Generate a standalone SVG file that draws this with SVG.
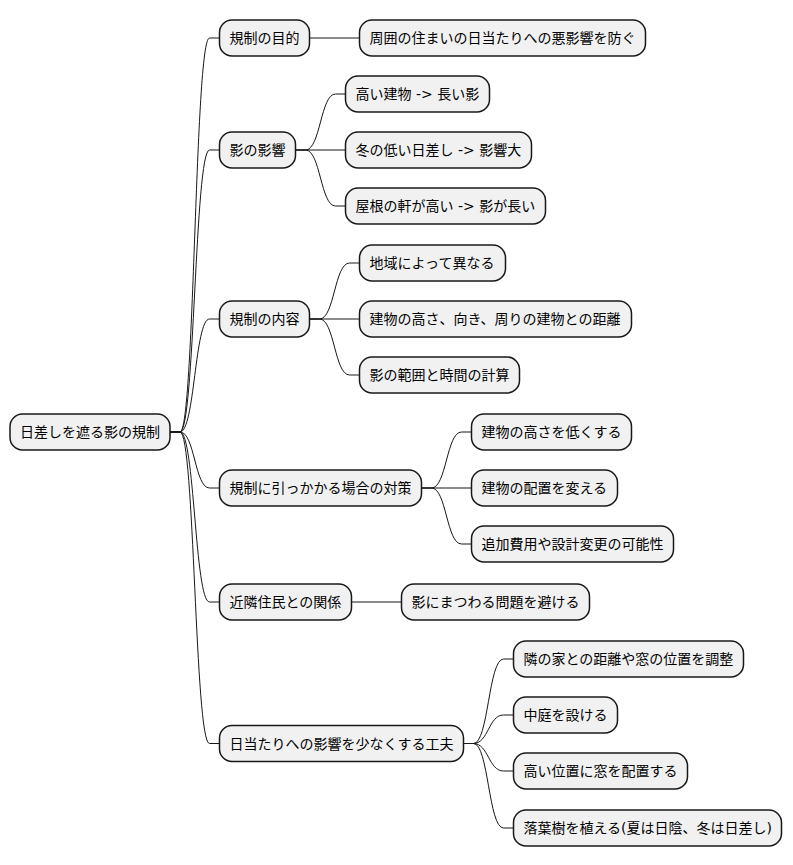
<svg xmlns="http://www.w3.org/2000/svg" width="793" height="865" viewBox="0 0 793 865">
<style>
.n rect{fill:#F1F1F1;stroke:#181818;stroke-width:1.5}
.n text{font-family:"DejaVu Sans","Noto Sans CJK JP",sans-serif;font-size:14px;fill:#000}
.c path{fill:none;stroke:#181818;stroke-width:1}
</style>
<rect width="793" height="865" fill="#FFFFFF"/>
<g class="c" id="connectors">
<path d="M170,432 L180,432 C194.75,432 194.75,38 209.5,38 L219.5,38"/>
<path d="M170,432 L180,432 C194.75,432 194.75,150 209.5,150 L219.5,150"/>
<path d="M170,432 L180,432 C194.75,432 194.75,319 209.5,319 L219.5,319"/>
<path d="M170,432 L180,432 C194.75,432 194.75,488 209.5,488 L219.5,488"/>
<path d="M170,432 L180,432 C194.75,432 194.75,602 209.5,602 L219.5,602"/>
<path d="M170,432 L180,432 C194.75,432 194.75,743.5 209.5,743.5 L219.5,743.5"/>
<path d="M309.5,38 L359.5,38"/>
<path d="M295.5,150 L305.5,150 C320.5,150 320.5,94 335.5,94 L345.5,94"/>
<path d="M295.5,150 L345.5,150"/>
<path d="M295.5,150 L305.5,150 C320.5,150 320.5,206 335.5,206 L345.5,206"/>
<path d="M309.5,319 L319.5,319 C334.5,319 334.5,263 349.5,263 L359.5,263"/>
<path d="M309.5,319 L359.5,319"/>
<path d="M309.5,319 L319.5,319 C334.5,319 334.5,375 349.5,375 L359.5,375"/>
<path d="M421.5,488 L431.5,488 C446.5,488 446.5,432 461.5,432 L471.5,432"/>
<path d="M421.5,488 L471.5,488"/>
<path d="M421.5,488 L431.5,488 C446.5,488 446.5,544 461.5,544 L471.5,544"/>
<path d="M351.5,602 L401.5,602"/>
<path d="M463.5,743.5 L473.5,743.5 C488.5,743.5 488.5,659 503.5,659 L513.5,659"/>
<path d="M463.5,743.5 L473.5,743.5 C488.5,743.5 488.5,715 503.5,715 L513.5,715"/>
<path d="M463.5,743.5 L473.5,743.5 C488.5,743.5 488.5,771 503.5,771 L513.5,771"/>
<path d="M463.5,743.5 L473.5,743.5 C488.5,743.5 488.5,828 503.5,828 L513.5,828"/>
</g>
<g class="n" id="root"><rect x="10" y="414" width="160" height="36" rx="12.5"/><text x="20" y="437">日差しを遮る影の規制</text></g>
<g class="n" id="n_mokuteki"><rect x="219.5" y="20" width="90" height="36" rx="12.5"/><text x="229.5" y="43">規制の目的</text></g>
<g class="n" id="n_eikyo"><rect x="219.5" y="132" width="76" height="36" rx="12.5"/><text x="229.5" y="155">影の影響</text></g>
<g class="n" id="n_naiyo"><rect x="219.5" y="301" width="90" height="36" rx="12.5"/><text x="229.5" y="324">規制の内容</text></g>
<g class="n" id="n_taisaku"><rect x="219.5" y="470" width="202" height="36" rx="12.5"/><text x="229.5" y="493">規制に引っかかる場合の対策</text></g>
<g class="n" id="n_kinrin"><rect x="219.5" y="584" width="132" height="36" rx="12.5"/><text x="229.5" y="607">近隣住民との関係</text></g>
<g class="n" id="n_kufu"><rect x="219.5" y="725.5" width="244" height="36" rx="12.5"/><text x="229.5" y="748.5">日当たりへの影響を少なくする工夫</text></g>
<g class="n" id="n_shui"><rect x="359.5" y="20" width="286" height="36" rx="12.5"/><text x="369.5" y="43">周囲の住まいの日当たりへの悪影響を防ぐ</text></g>
<g class="n" id="n_takai"><rect x="345.5" y="76" width="144" height="36" rx="12.5"/><text x="355.5" y="99">高い建物 -&gt; 長い影</text></g>
<g class="n" id="n_fuyu"><rect x="345.5" y="132" width="186" height="36" rx="12.5"/><text x="355.5" y="155">冬の低い日差し -&gt; 影響大</text></g>
<g class="n" id="n_yane"><rect x="345.5" y="188" width="200" height="36" rx="12.5"/><text x="355.5" y="211">屋根の軒が高い -&gt; 影が長い</text></g>
<g class="n" id="n_chiiki"><rect x="359.5" y="245" width="146" height="36" rx="12.5"/><text x="369.5" y="268">地域によって異なる</text></g>
<g class="n" id="n_tatemono"><rect x="359.5" y="301" width="272" height="36" rx="12.5"/><text x="369.5" y="324">建物の高さ、向き、周りの建物との距離</text></g>
<g class="n" id="n_hani"><rect x="359.5" y="357" width="160" height="36" rx="12.5"/><text x="369.5" y="380">影の範囲と時間の計算</text></g>
<g class="n" id="n_hikuku"><rect x="471.5" y="414" width="160" height="36" rx="12.5"/><text x="481.5" y="437">建物の高さを低くする</text></g>
<g class="n" id="n_haichi"><rect x="471.5" y="470" width="146" height="36" rx="12.5"/><text x="481.5" y="493">建物の配置を変える</text></g>
<g class="n" id="n_tsuika"><rect x="471.5" y="526" width="202" height="36" rx="12.5"/><text x="481.5" y="549">追加費用や設計変更の可能性</text></g>
<g class="n" id="n_mondai"><rect x="401.5" y="584" width="188" height="36" rx="12.5"/><text x="411.5" y="607">影にまつわる問題を避ける</text></g>
<g class="n" id="n_tonari"><rect x="513.5" y="641" width="230" height="36" rx="12.5"/><text x="523.5" y="664">隣の家との距離や窓の位置を調整</text></g>
<g class="n" id="n_nakaniwa"><rect x="513.5" y="697" width="104" height="36" rx="12.5"/><text x="523.5" y="720">中庭を設ける</text></g>
<g class="n" id="n_mado"><rect x="513.5" y="753" width="174" height="36" rx="12.5"/><text x="523.5" y="776">高い位置に窓を配置する</text></g>
<g class="n" id="n_rakuyo"><rect x="513.5" y="810" width="268" height="36" rx="12.5"/><text x="523.5" y="833">落葉樹を植える(夏は日陰、冬は日差し)</text></g>
</svg>
